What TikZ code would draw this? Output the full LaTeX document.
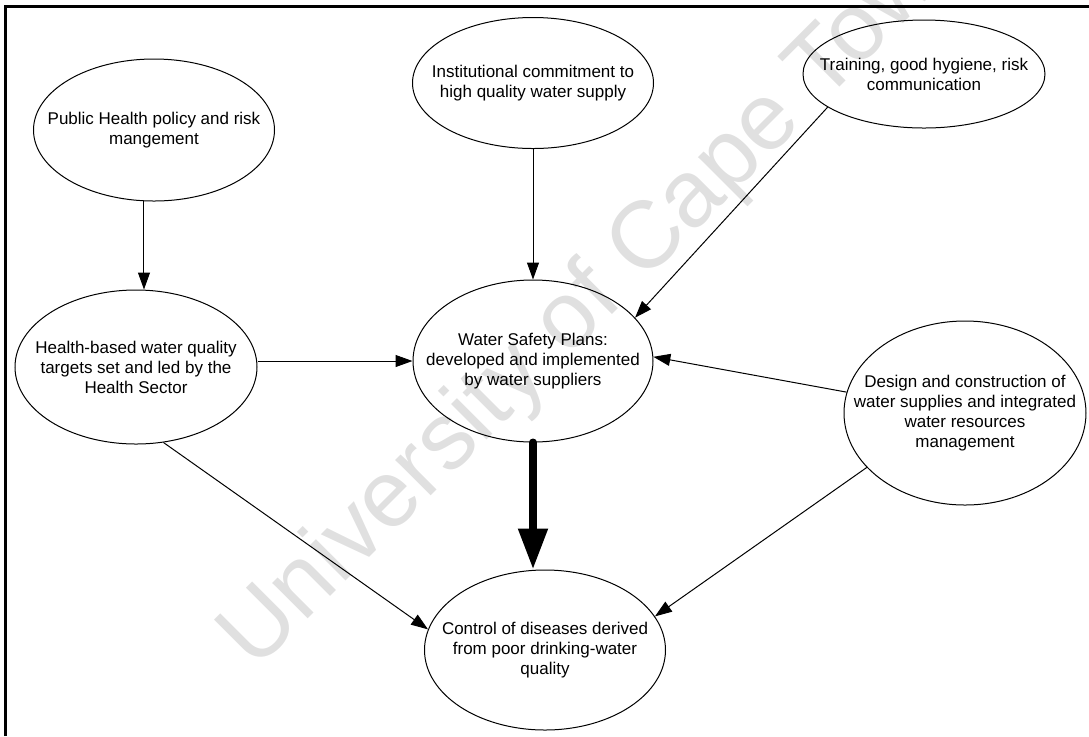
\documentclass[tikz,border=0pt]{standalone}
\usepackage{fontspec}
\setmainfont{Liberation Sans}
\usetikzlibrary{positioning,shapes.geometric,arrows.meta}

\begin{document}
\begin{tikzpicture}
[x=0.5pt,y=-0.5pt,
 bubble/.style 2 args={ellipse,draw=black,line width=0.5pt,inner sep=0pt,minimum width=#1,minimum height=#2},
 txt/.style={align=center,inner sep=0pt,font=\fontsize{8.5pt}{10pt}\selectfont},
 arr/.style={-{Triangle[width=6pt,length=8.5pt]},line width=0.5pt},
 bigarr/.style={-{Triangle[width=14pt,length=20.5pt]},line width=4pt,line cap=round},
 wmark/.style={text=black!12,inner sep=0pt,font=\fontsize{47.5pt}{50pt}\selectfont}]
\useasboundingbox (0,0) rectangle (1089,736);
% watermark
\begin{scope}
\clip (0,0) rectangle (1089,736);
\node[wmark,rotate=45,anchor=base west] (wm) at (255,672) {University of Cape Town};
\end{scope}
% frame
\draw[line width=1.5pt] (5.5,736) -- (5.5,6.7) -- (1089,6.7);
% bubbles
\node[bubble={120pt}{81pt},label={[txt]center:{Water Safety Plans:\\developed and implemented\\by water suppliers}}] (wsp) at (533,361) {};
\node[bubble={120.5pt}{65.5pt},label={[txt]center:{Institutional commitment to\\high quality water supply}}] (ins) [on grid,above=139pt of wsp] {};
\node[bubble={121pt}{77pt},label={[txt]center:{Health-based water quality\\targets set and led by the\\Health Sector}}] (hb) [on grid,below left=3pt and 198.5pt of wsp] {};
\node[bubble={120.5pt}{71pt},label={[txt]center:{Public Health policy and risk\\mangement}}] (ph) [on grid,above right=118.5pt and 9pt of hb] {};
\node[bubble={121pt}{54pt},label={[txt]center:{Training, good hygiene, risk\\communication}}] (trn) [on grid,above right=4.5pt and 195.5pt of ins] {};
\node[bubble={121pt}{92pt},label={[txt]center:{Design and construction of\\water supplies and integrated\\water resources\\management}}] (des) [on grid,below right=26pt and 216pt of wsp] {};
\node[bubble={120.5pt}{80pt},label={[txt]center:{Control of diseases derived\\from poor drinking-water\\quality}}] (ctl) [on grid,below right=144.5pt and 6pt of wsp] {};
% arrows
\path[arr] (ph.262)             edge (ph.262 |- hb.north);
\path[arr] (ins)                edge (wsp);
\path[arr] (trn.199)            edge (wsp.23);
\path[arr] (hb.east |- wsp.west) edge (wsp.west);
\path[arr] (des.170)            edge (wsp.2);
\path[arr] (hb.-70)             edge (ctl.170);
\path[arr] (des.209)            edge (ctl.17);
\draw[bigarr] (wsp.south) -- (wsp.south |- ctl.north);
\end{tikzpicture}
\end{document}
